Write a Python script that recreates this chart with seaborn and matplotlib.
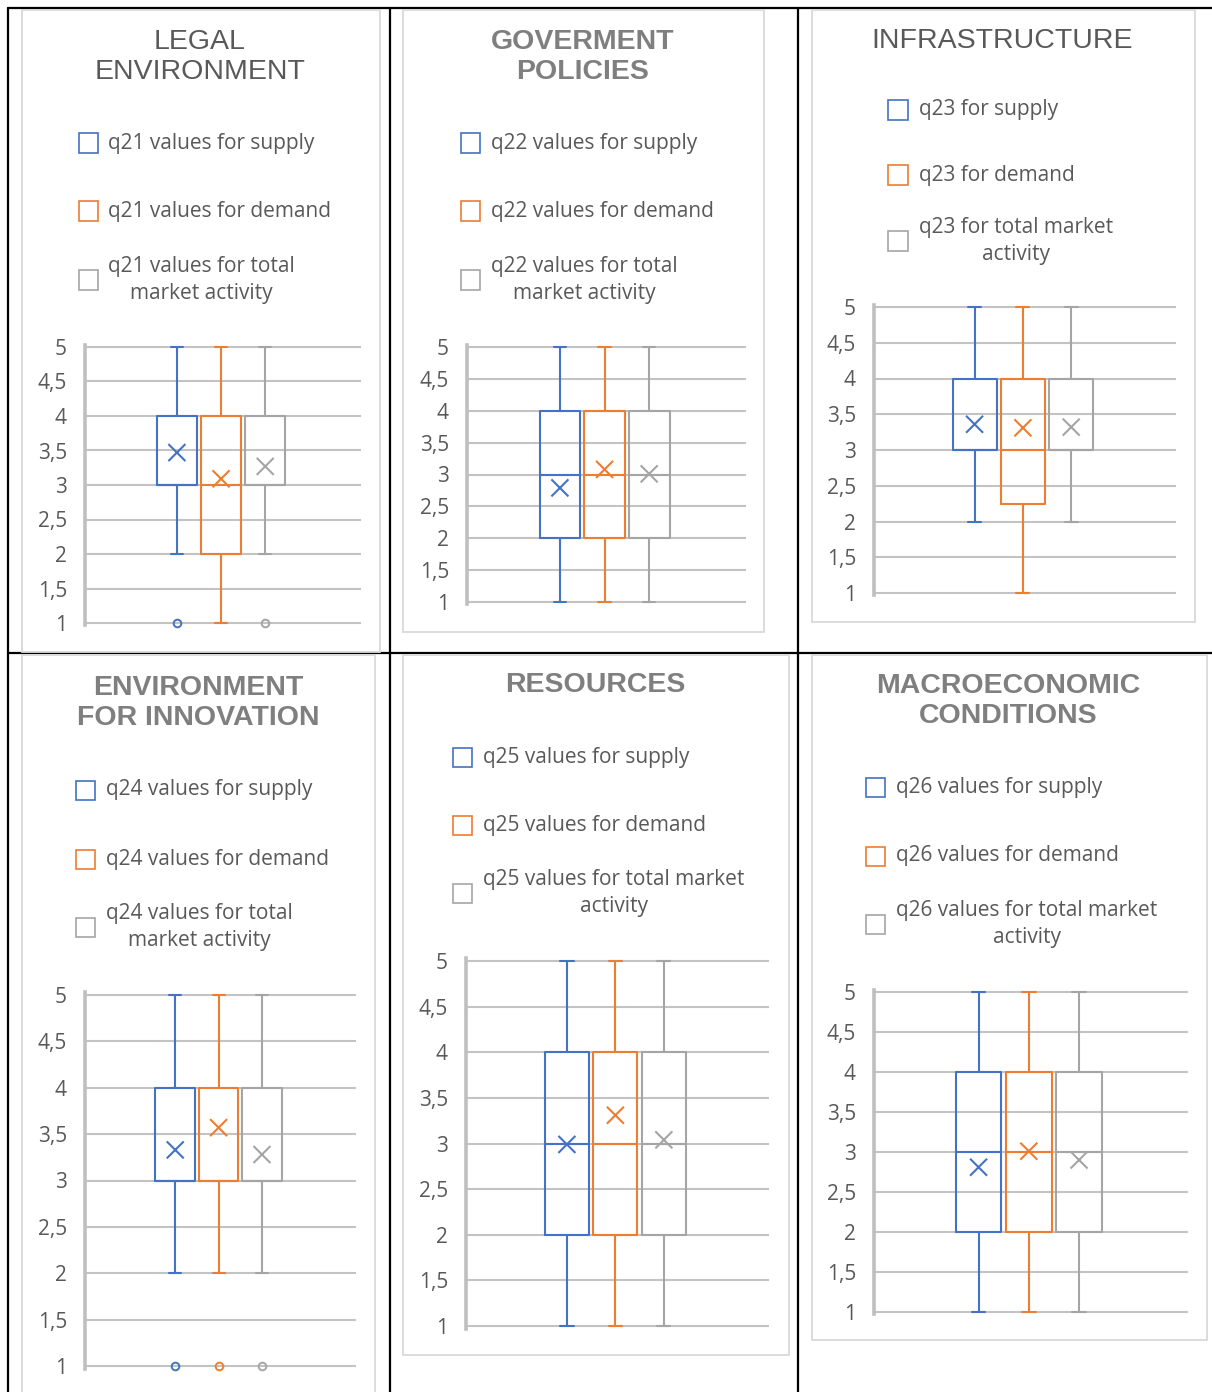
import matplotlib
matplotlib.use("Agg")
import matplotlib.pyplot as plt
from matplotlib.patches import Rectangle
from matplotlib.lines import Line2D
import numpy as np
import pandas as pd
import seaborn as sns

# ---------------------------------------------------------------- data
titles = ["LEGAL\nENVIRONMENT", "GOVERMENT\nPOLICIES", "INFRASTRUCTURE",
          "ENVIRONMENT\nFOR INNOVATION", "RESOURCES", "MACROECONOMIC\nCONDITIONS"]
title_bold = [False, True, False, True, True, True]

supply_labels = ["q21 values for supply", "q22 values for supply", "q23 for supply",
                 "q24 values for supply", "q25 values for supply", "q26 values for supply"]
demand_labels = ["q21 values for demand", "q22 values for demand", "q23 for demand",
                 "q24 values for demand", "q25 values for demand", "q26 values for demand"]
total_labels = ["q21 values for total\nmarket activity",
                "q22 values for total\nmarket activity",
                "q23 for total market\nactivity",
                "q24 values for total\nmarket activity",
                "q25 values for total market\nactivity",
                "q26 values for total market\nactivity"]

supply_low = [2, 1, 2, 2, 1, 1]
supply_q1 = [3, 2, 3, 3, 2, 2]
supply_median = [3, 3, 3, 3, 3, 3]
supply_q3 = [4, 4, 4, 4, 4, 4]
supply_high = [5, 5, 5, 5, 5, 5]
supply_mean = [3.47, 2.79, 3.36, 3.33, 2.99, 2.81]
supply_outliers = [[1], [], [], [1], [], []]

demand_low = [1, 1, 1, 2, 1, 1]
demand_q1 = [2, 2, 2.25, 3, 2, 2]
demand_median = [3, 3, 3, 3, 3, 3]
demand_q3 = [4, 4, 4, 4, 4, 4]
demand_high = [5, 5, 5, 5, 5, 5]
demand_mean = [3.09, 3.08, 3.31, 3.57, 3.31, 3.01]
demand_outliers = [[], [], [], [1], [], []]

total_low = [2, 1, 2, 2, 1, 1]
total_q1 = [3, 2, 3, 3, 2, 2]
total_median = [3, 3, 3, 3, 3, 3]
total_q3 = [4, 4, 4, 4, 4, 4]
total_high = [5, 5, 5, 5, 5, 5]
total_mean = [3.27, 3.01, 3.32, 3.28, 3.04, 2.90]
total_outliers = [[1], [], [], [1], [], []]

ytick_values = [1, 1.5, 2, 2.5, 3, 3.5, 4, 4.5, 5]
ytick_labels = ["1", "1,5", "2", "2,5", "3", "3,5", "4", "4,5", "5"]

series_names = ["supply", "demand", "total"]
series_colors = ["#4472C4", "#ED7D31", "#A5A5A5"]

# ---------------------------------------------------------------- layout (pixels)
W, H = 1212, 1392
panels = [
    dict(box=(22, 10, 380, 652), ax=(85, 347, 361, 623), tx=200, ty=57,
         mx=88, lx=108, rows=(143, 211, 280)),
    dict(box=(403, 10, 764, 632), ax=(467, 347, 746, 602), tx=583, ty=57,
         mx=470, lx=491, rows=(143, 211, 280)),
    dict(box=(812, 10, 1195, 622), ax=(874, 307, 1176, 593), tx=1002, ty=41,
         mx=898, lx=919, rows=(110, 175, 241)),
    dict(box=(22, 655, 375, 1400), ax=(85, 995, 356, 1366), tx=198, ty=703,
         mx=85, lx=106, rows=(790, 860, 927)),
    dict(box=(403, 655, 789, 1355), ax=(466, 961, 769, 1326), tx=595, ty=685,
         mx=462, lx=483, rows=(757, 825, 893)),
    dict(box=(812, 655, 1207, 1340), ax=(874, 992, 1188, 1312), tx=1008, ty=701,
         mx=875, lx=896, rows=(787, 856, 924)),
]

sns.set_theme(style="white")
plt.rcParams["font.family"] = ["Open Sans", "DejaVu Sans"]

TEXT = "#595959"
GRID = "#C3C3C3"

fig = plt.figure(figsize=(W / 100, H / 100), dpi=100)
fig.patch.set_facecolor("white")


def fx(x):
    return x / W


def fy(y):
    return 1 - y / H


# table rules
for (x0, y0, x1, y1) in [(8, 8, 1212, 8), (8, 653, 1212, 653),
                         (8, 8, 8, 1392), (390, 8, 390, 1392), (798, 8, 798, 1392)]:
    fig.add_artist(Line2D([fx(x0), fx(x1)], [fy(y0), fy(y1)], color="black",
                          lw=1.6, transform=fig.transFigure, zorder=-3))

PAD = 0.03  # extra room so the lines at 1 and 5 are not clipped

for i, p in enumerate(panels):
    bx0, by0, bx1, by1 = p["box"]
    fig.add_artist(Rectangle((fx(bx0), fy(by1)), (bx1 - bx0) / W, (by1 - by0) / H,
                             transform=fig.transFigure, facecolor="white",
                             edgecolor="#D9D9D9", lw=1.3, zorder=-2))

    # title
    bold = title_bold[i]
    fig.text(fx(p["tx"]), fy(p["ty"]), titles[i], ha="center", va="center",
             fontsize=20.5, family=["Liberation Sans", "DejaVu Sans"],
             fontweight="bold" if bold else "normal",
             color="#7F7F7F" if bold else TEXT, linespacing=1.22)

    # legend
    labels = [supply_labels[i], demand_labels[i], total_labels[i]]
    for j, (lab, col) in enumerate(zip(labels, series_colors)):
        ry = p["rows"][j]
        s = 19
        fig.add_artist(Rectangle((fx(p["mx"] - s / 2), fy(ry + s / 2)), s / W, s / H,
                                 transform=fig.transFigure, facecolor="none",
                                 edgecolor=col, lw=1.2))
        fig.text(fx(p["lx"]), fy(ry), lab, ha="left", va="center", fontsize=15,
                 color=TEXT, multialignment="center", linespacing=1.42)

    # axes
    ax0, ay_top, ax1, ay_bot = p["ax"]
    ppu = (ay_bot - ay_top) / 4.0
    top = ay_top - PAD * ppu
    bot = ay_bot + PAD * ppu
    ax = fig.add_axes([fx(ax0), fy(bot), (ax1 - ax0) / W, (bot - top) / H])
    ax.set_facecolor("none")

    bw = 0.146
    step = 0.16
    center = 0.493
    positions = [center - step, center, center + step]

    lows = [supply_low[i], demand_low[i], total_low[i]]
    q1s = [supply_q1[i], demand_q1[i], total_q1[i]]
    meds = [supply_median[i], demand_median[i], total_median[i]]
    q3s = [supply_q3[i], demand_q3[i], total_q3[i]]
    highs = [supply_high[i], demand_high[i], total_high[i]]
    outs = [supply_outliers[i], demand_outliers[i], total_outliers[i]]
    means = [supply_mean[i], demand_mean[i], total_mean[i]]

    for k in range(3):
        col = series_colors[k]
        stat = dict(whislo=lows[k], q1=q1s[k], med=meds[k], q3=q3s[k],
                    whishi=highs[k], fliers=outs[k], mean=means[k])
        line = dict(color=col, lw=1.5)
        art = ax.bxp([stat], positions=[positions[k]], widths=bw,
                     capwidths=bw * 0.3, showmeans=False, showfliers=True,
                     manage_ticks=False, boxprops=line, whiskerprops=line,
                     capprops=line, medianprops=line,
                     flierprops=dict(marker="o", markersize=5.5,
                                     markerfacecolor="none",
                                     markeredgecolor=col, markeredgewidth=1.4))
        for arts in art.values():
            for a in arts:
                a.set_clip_on(False)
                a.set_zorder(3)

    df = pd.DataFrame({"pos": positions, "mean": means, "series": series_names})
    sns.scatterplot(data=df, x="pos", y="mean", hue="series",
                    palette=series_colors, marker="x", s=150, linewidth=1.5,
                    legend=False, ax=ax, zorder=4, clip_on=False)

    ax.set_xlim(0, 1)
    ax.set_ylim(1 - PAD, 5 + PAD)
    ax.set_xticks([])
    ax.set_yticks(ytick_values, ytick_labels)
    ax.set_xlabel("")
    ax.set_ylabel("")
    ax.tick_params(axis="y", length=0, pad=13, labelsize=15, labelcolor=TEXT)
    ax.yaxis.grid(True, color=GRID, lw=1.5)
    ax.xaxis.grid(False)
    ax.set_axisbelow(True)
    for side in ["top", "right", "bottom"]:
        ax.spines[side].set_visible(False)
    ax.spines["left"].set_color("#BFBFBF")
    ax.spines["left"].set_linewidth(2.6)

fig.savefig("out.png", dpi=100)
